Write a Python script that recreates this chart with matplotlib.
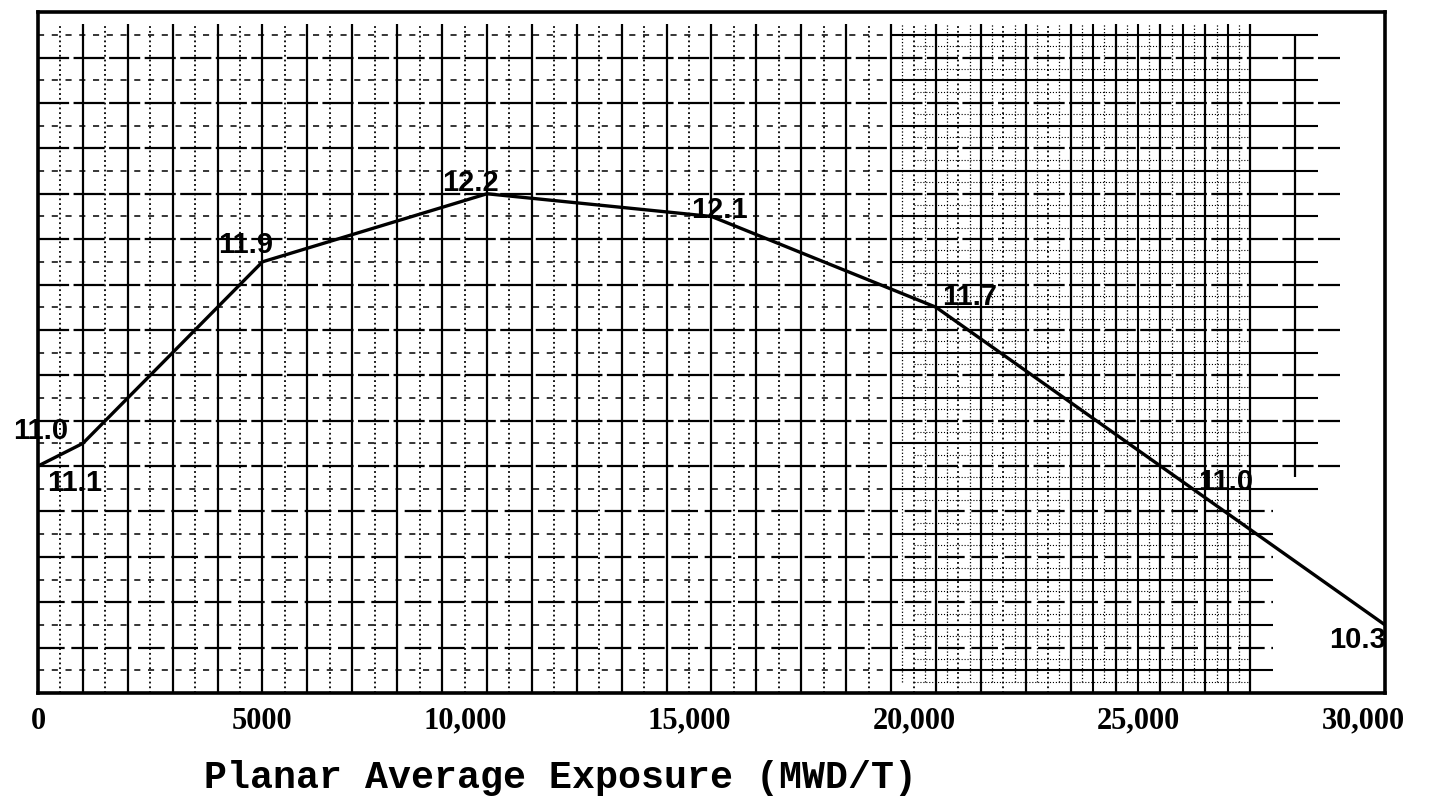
import matplotlib.pyplot as plt
import matplotlib.transforms as mtransforms
import numpy as np

# Donnees
exposure = [0, 1000, 5000, 10000, 15000, 20000, 25000, 30000]
valeur = [11.0, 11.1, 11.9, 12.2, 12.1, 11.7, 11.0, 10.3]
etiquettes = ["11.0", "11.1", "11.9", "12.2", "12.1", "11.7", "11.0", "10.3"]
# decalage des etiquettes (pixels) par rapport au point
decalages = [(3, 35), (-8, -40), (-17, 17), (-17, 11), (8, 6), (34, 10), (65, -16), (-27, -15)]

xticks = [0, 5000, 10000, 15000, 20000, 25000, 30000]
xticklabels = ["0", "5000", "10,000", "15,000", "20,000", "25,000", "30,000"]

fig = plt.figure(figsize=(14.43, 7.99), dpi=100)
ax = fig.add_axes([0.0263, 0.1327, 0.9335, 0.852])
ax.set_xlim(0, 30000)
ax.set_ylim(10, 13)

# Papier quadrille (approximation du scan)
k = dict(colors="black", zorder=1)
ax.vlines(np.arange(1000, 28000, 1000), 10, 12.95, lw=1.6, **k)
ax.vlines([28000], 10.95, 12.9, lw=1.6, **k)
ax.vlines(np.arange(500, 20000, 1000), 10, 12.95, lw=1.3, linestyles=":", **k)
ax.vlines(np.arange(20500, 23000, 1000), 10, 12.95, lw=1.3, linestyles=":", **k)
ax.vlines(np.arange(23500, 27000, 1000), 10, 12.95, lw=1.5, **k)
ax.vlines(np.arange(19250, 27000, 500), 10.05, 12.95, lw=0.9, linestyles=":", **k)

maj_y = np.round(np.arange(10.2, 12.81, 0.2), 1)
ax.hlines(maj_y[maj_y >= 11.0], 0, 29000, lw=1.6, linestyles=(0, (14, 2)), **k)
ax.hlines(maj_y[maj_y < 11.0], 0, 27500, lw=1.6, linestyles=(0, (12, 3)), **k)
min_y = np.round(np.arange(10.1, 12.91, 0.2), 1)
ax.hlines(min_y, 0, 19000, lw=1.1, linestyles=(0, (4, 5)), **k)
ax.hlines(min_y[min_y >= 10.8], 19000, 28500, lw=1.5, **k)
ax.hlines(min_y[min_y < 10.8], 19000, 27500, lw=1.5, **k)
ax.hlines(np.arange(10.05, 12.9, 0.1), 19500, 27000, lw=0.8, linestyles=":", **k)

# Courbe
ax.plot(exposure, valeur, color="black", lw=2.4, zorder=3)

for x, y, t, (dx, dy) in zip(exposure, valeur, etiquettes, decalages):
    ax.annotate(t, (x, y), xytext=(dx, dy), textcoords="offset pixels",
                ha="center", va="center", fontsize=21, fontweight="bold",
                family="Liberation Sans", zorder=4, annotation_clip=False)

ax.set_yticks([])
ax.set_xticks(xticks)
ax.set_xticklabels(xticklabels, fontsize=22, fontweight="bold", family="Liberation Serif")
ax.tick_params(axis="x", length=0, pad=10)
for lab in ax.get_xticklabels():
    if "," in lab.get_text():
        lab.set_transform(lab.get_transform() +
                          mtransforms.ScaledTranslation(-0.22, 0, fig.dpi_scale_trans))

for s in ax.spines.values():
    s.set_linewidth(2.6)
    s.set_zorder(5)

fig.text(560 / 1443, 1 - 778 / 799, "Planar Average Exposure (MWD/T)",
         ha="center", va="center", fontsize=27.5, fontweight="bold", family="Liberation Mono")

plt.savefig("out.png", dpi=100)
